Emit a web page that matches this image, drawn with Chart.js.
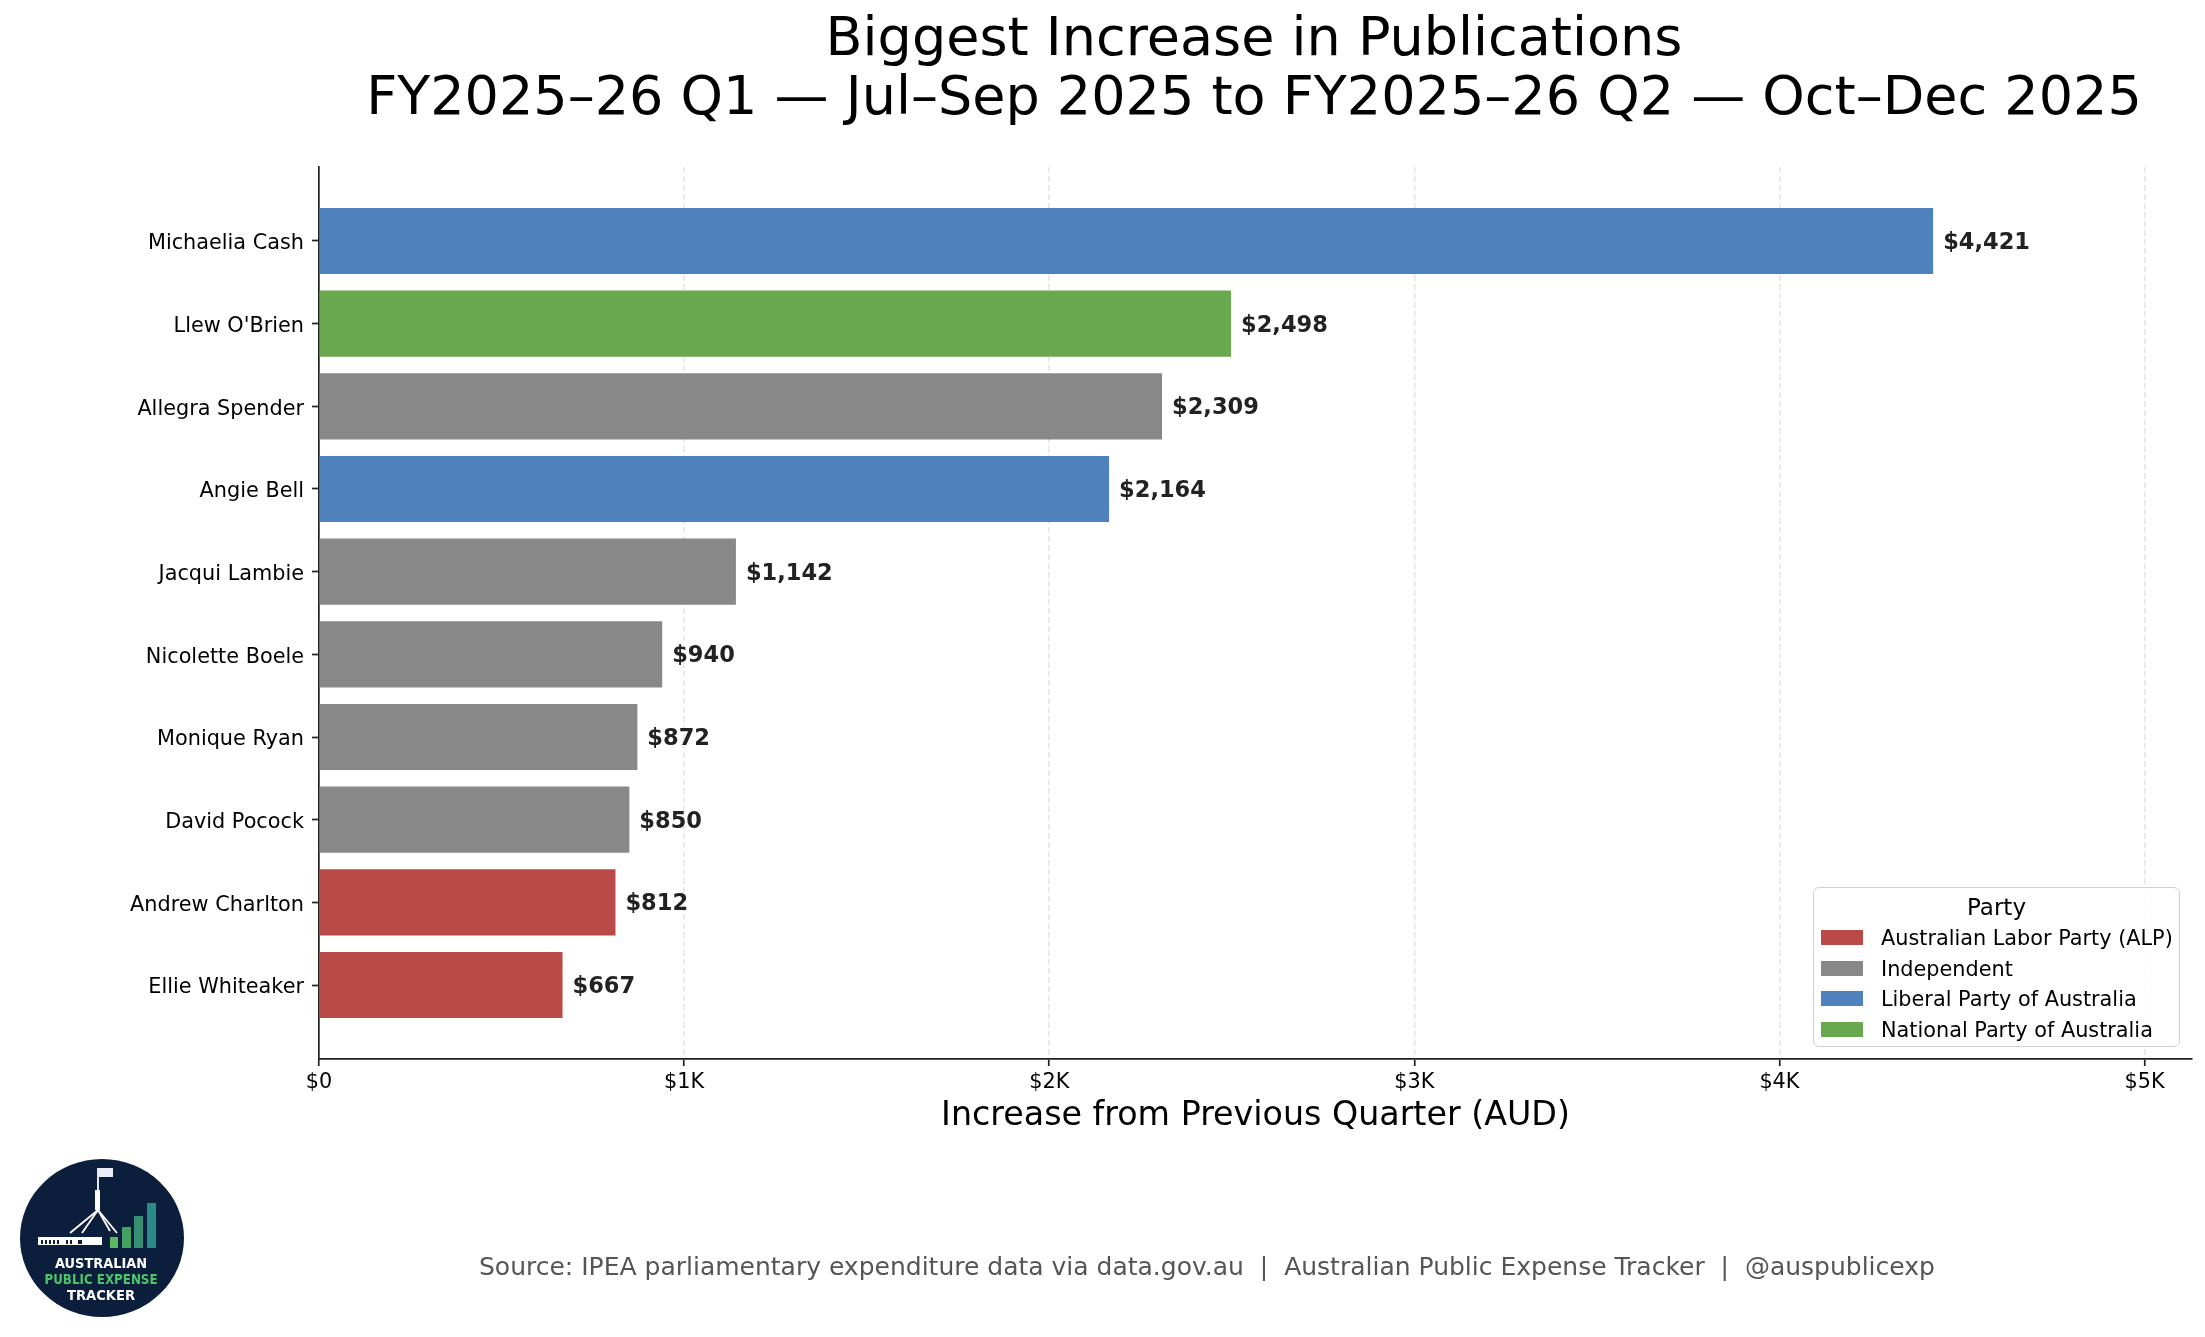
<!DOCTYPE html>
<html lang="en">
<head>
    <meta charset="UTF-8">
    <title>Biggest Increase in Publications</title>
    <script src="https://cdn.jsdelivr.net/npm/chart.js@4"></script>
    <style>
        body {
            margin: 0;
            background: #fff;
            font-family: 'DejaVu Sans', sans-serif;
        }
        #wrap {
            position: relative;
            width: 2205px;
            height: 1337px;
            overflow: hidden;
        }
        #chart {
            position: absolute;
            left: 0;
            top: 0;
        }
        .title {
            position: absolute;
            left: 0;
            top: 7px;
            width: 2508px;
            text-align: center;
            font-size: 54px;
            line-height: 59px;
            color: #000;
            white-space: nowrap;
        }
        #legend {
            position: absolute;
            left: 1813px;
            top: 887px;
            width: 367px;
            height: 160px;
            box-sizing: border-box;
            border: 1.5px solid #d0d0d0;
            border-radius: 6px;
            background: rgba(255, 255, 255, 0.8);
        }
        #legend .ltitle {
            position: absolute;
            left: 0;
            top: 4px;
            width: 100%;
            text-align: center;
            font-size: 23px;
            line-height: 30px;
        }
        #legend .row {
            position: absolute;
            left: 0;
            height: 30px;
            width: 100%;
            font-size: 20.8px;
            line-height: 30px;
        }
        #legend .swatch {
            position: absolute;
            left: 7px;
            top: 7px;
            width: 42px;
            height: 15px;
        }
        #legend .txt {
            position: absolute;
            left: 67px;
            top: 0;
            white-space: nowrap;
        }
        .source {
            position: absolute;
            left: 479px;
            top: 1254px;
            font-size: 25px;
            line-height: 25px;
            color: #555;
            white-space: pre;
        }
        #logo {
            position: absolute;
            left: 0;
            top: 1140px;
        }
    </style>
</head>
<body>
<div id="wrap">
    <canvas id="chart" width="2205" height="1337"></canvas>
    <div class="title">Biggest Increase in Publications<br>FY2025–26 Q1 — Jul–Sep 2025 to FY2025–26 Q2 — Oct–Dec 2025</div>
    <div id="legend"><div class="ltitle">Party</div></div>
    <div class="source">Source: IPEA parliamentary expenditure data via data.gov.au  |  Australian Public Expense Tracker  |  @auspublicexp</div>

    <!-- logo badge, bottom left -->
    <svg id="logo" width="200" height="200" viewBox="0 1140 200 200">
        <ellipse cx="102" cy="1238" rx="82" ry="79" fill="#0b1f3d"/>
        <line x1="98" y1="1168" x2="98" y2="1210" stroke="#fff" stroke-width="1.8"/>
        <rect x="99" y="1168" width="14" height="9" fill="#e8ecf4"/>
        <rect x="95" y="1190" width="5" height="20" fill="#fff"/>
        <g stroke="#fff" stroke-width="1.8">
            <line x1="98" y1="1210" x2="70" y2="1233"/>
            <line x1="98" y1="1210" x2="82" y2="1233"/>
            <line x1="98" y1="1210" x2="110" y2="1231"/>
            <line x1="98" y1="1210" x2="117" y2="1233"/>
        </g>
        <rect x="38" y="1237" width="64" height="8" fill="#fff"/>
        <g fill="#0b1f3d">
            <rect x="41" y="1240" width="2" height="4"/>
            <rect x="45" y="1240" width="2" height="4"/>
            <rect x="49" y="1240" width="2" height="4"/>
            <rect x="53" y="1240" width="2" height="4"/>
            <rect x="57" y="1240" width="2" height="4"/>
            <rect x="66" y="1240" width="2" height="4"/>
            <rect x="70" y="1240" width="2" height="4"/>
            <rect x="78" y="1240" width="4" height="4"/>
        </g>
        <rect x="110" y="1237" width="8" height="11" fill="#5cb85c"/>
        <rect x="122" y="1227" width="9" height="21" fill="#43a060"/>
        <rect x="134" y="1216" width="9" height="32" fill="#368f72"/>
        <rect x="147" y="1203" width="9" height="45" fill="#2a8a88"/>
        <g font-family="DejaVu Sans" font-weight="bold" font-size="14" text-anchor="middle">
            <text x="101" y="1268" fill="#fff" textLength="92" lengthAdjust="spacingAndGlyphs">AUSTRALIAN</text>
            <text x="101" y="1284" fill="#4cc46a" textLength="113" lengthAdjust="spacingAndGlyphs">PUBLIC EXPENSE</text>
            <text x="101" y="1300" fill="#fff" textLength="68" lengthAdjust="spacingAndGlyphs">TRACKER</text>
        </g>
    </svg>
</div>

<script>
    const names = ['Michaelia Cash', "Llew O'Brien", 'Allegra Spender', 'Angie Bell', 'Jacqui Lambie',
        'Nicolette Boele', 'Monique Ryan', 'David Pocock', 'Andrew Charlton', 'Ellie Whiteaker'];
    const increases = [4421, 2498, 2309, 2164, 1142, 940, 872, 850, 812, 667];
    const parties = ['Liberal Party of Australia', 'National Party of Australia', 'Independent',
        'Liberal Party of Australia', 'Independent', 'Independent', 'Independent', 'Independent',
        'Australian Labor Party (ALP)', 'Australian Labor Party (ALP)'];
    const partyOrder = ['Australian Labor Party (ALP)', 'Independent', 'Liberal Party of Australia', 'National Party of Australia'];
    const partyColours = ['#b94a48', '#888888', '#4f81bd', '#6aa84f'];
    const xTickValues = [0, 1000, 2000, 3000, 4000, 5000];
    const xTickLabels = ['$0', '$1K', '$2K', '$3K', '$4K', '$5K'];

    Chart.defaults.font.family = "'DejaVu Sans', sans-serif";
    Chart.defaults.color = '#000';

    // one dataset per party, so each bar keeps its party colour
    const datasets = partyOrder.map((p, k) => ({
        label: p,
        backgroundColor: partyColours[k],
        borderWidth: 0,
        grouped: false,
        categoryPercentage: 0.8,
        barPercentage: 1,
        data: increases.map((v, i) => ({ x: v, y: i })).filter(d => parties[d.y] === p)
    }));

    // the "$4,421" style labels at the end of each bar
    const valueLabels = {
        id: 'valueLabels',
        afterDatasetsDraw(chart) {
            const ctx = chart.ctx;
            ctx.save();
            ctx.font = "bold 22.5px 'DejaVu Sans'";
            ctx.fillStyle = '#222';
            ctx.textBaseline = 'middle';
            ctx.textAlign = 'left';
            chart.data.datasets.forEach((ds, k) => {
                chart.getDatasetMeta(k).data.forEach((bar, j) => {
                    ctx.fillText('$' + ds.data[j].x.toLocaleString('en-US'), bar.x + 10, bar.y + 2);
                });
            });
            ctx.restore();
        }
    };

    new Chart(document.getElementById('chart'), {
        type: 'bar',
        data: { datasets: datasets },
        options: {
            indexAxis: 'y',
            responsive: false,
            animation: false,
            devicePixelRatio: 1,
            layout: { padding: { left: 0, top: 167, right: 13, bottom: 197 } },
            plugins: {
                legend: { display: false },
                tooltip: { enabled: false }
            },
            scales: {
                x: {
                    type: 'linear',
                    min: 0,
                    max: 5130,
                    afterBuildTicks: s => { s.ticks = xTickValues.map(v => ({ value: v })); },
                    afterFit: s => { s.height = 81; },
                    ticks: {
                        autoSkip: false,
                        maxRotation: 0,
                        padding: 4,
                        font: { size: 20.8 },
                        color: '#000',
                        callback: (v, i) => xTickLabels[i]
                    },
                    grid: {
                        color: ctx => ctx.tick && ctx.tick.value === 0 ? 'rgba(0,0,0,0)' : 'rgba(0,0,0,0.1)',
                        lineWidth: 1.5,
                        tickLength: 7,
                        tickColor: '#222',
                        tickWidth: 1.7
                    },
                    border: { display: true, color: '#222', width: 1.7, dash: [6, 3] },
                    title: {
                        display: true,
                        text: 'Increase from Previous Quarter (AUD)',
                        font: { size: 33.3 },
                        color: '#000',
                        padding: { top: 4, bottom: 4 }
                    }
                },
                y: {
                    type: 'linear',
                    reverse: true,
                    min: -0.895,
                    max: 9.895,
                    offset: false,
                    afterBuildTicks: s => { s.ticks = names.map((n, i) => ({ value: i })); },
                    afterFit: s => { s.width = 319; },
                    ticks: {
                        autoSkip: false,
                        padding: 8,
                        labelOffset: 3,
                        font: { size: 20.8 },
                        color: '#000',
                        callback: v => names[v]
                    },
                    grid: {
                        offset: false,
                        drawOnChartArea: false,
                        tickLength: 7,
                        tickColor: '#222',
                        tickWidth: 1.7
                    },
                    border: { display: true, color: '#222', width: 1.7 }
                }
            }
        },
        plugins: [valueLabels]
    });

    // legend box, built from the party lists
    const legend = document.getElementById('legend');
    const rowTops = [35, 66, 96, 127];
    partyOrder.forEach((p, k) => {
        const row = document.createElement('div');
        row.className = 'row';
        row.style.top = rowTops[k] + 'px';
        row.innerHTML = '<div class="swatch" style="background:' + partyColours[k] + '"></div><div class="txt">' + p + '</div>';
        legend.appendChild(row);
    });
</script>
</body>
</html>
